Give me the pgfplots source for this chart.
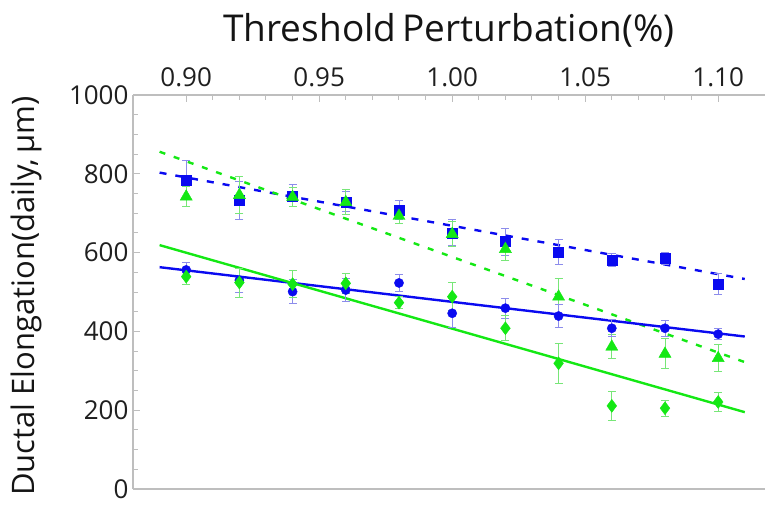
\documentclass[border=0pt]{standalone}
\usepackage{pgfplots}
\pgfplotsset{compat=1.18}
\usepackage{fontspec}
\setmainfont{Open Sans}
\definecolor{myblue}{RGB}{10,10,240}
\definecolor{mygreen}{RGB}{20,232,20}
\definecolor{errblue}{RGB}{140,140,235}
\definecolor{errgreen}{RGB}{120,230,120}
\definecolor{axgray}{RGB}{190,190,190}
\begin{document}
\begin{tikzpicture}
\useasboundingbox (0,0) rectangle (765pt,504pt);
\begin{axis}[
  at={(133pt,15pt)}, anchor=south west,
  scale only axis, width=632pt, height=394pt,
  xmin=0.88, xmax=1.1176, ymin=0, ymax=1000,
  axis x line*=top, axis y line*=left,
  axis line style={axgray, line width=1.6pt},
  tick align=inside,
  tick style={axgray, line width=1pt},
  major tick length=7pt, minor tick length=4.5pt,
  xtick={0.90,0.95,1.00,1.05,1.10},
  minor x tick num=4,
  ytick={0,200,400,600,800,1000},
  minor y tick num=3,
  xticklabel style={/pgf/number format/fixed, /pgf/number format/fixed zerofill, /pgf/number format/precision=2, yshift=5pt},
  yticklabel style={/pgf/number format/1000 sep={}, xshift=-1pt},
  /pgf/number format/assume math mode=true,
  ticklabel style={font=\fontsize{26}{30}\selectfont, text=black!88},
  xlabel={Threshold\,Perturbation(\%)},
  xlabel style={at={(axis description cs:0.5,1.165)}, anchor=center, font=\fontsize{37}{42}\selectfont, text=black!92},
  ylabel={Ductal Elongation(daily,\,μm)},
  ylabel style={at={(axis description cs:-0.168,0.49)}, anchor=center, font=\fontsize{31}{36}\selectfont, text=black!92},
  clip=false,
]
\draw[axgray, line width=1.6pt] (rel axis cs:0,0) -- (rel axis cs:1,0);
% fit lines
\addplot[myblue, line width=2.4pt, dash pattern=on 7pt off 9pt] coordinates {(0.89,803) (1.11,533)};
\addplot[mygreen, line width=2.4pt, dash pattern=on 6pt off 9pt] coordinates {(0.89,856) (1.11,322)};
\addplot[myblue, line width=2.4pt] coordinates {(0.89,563) (1.11,387)};
\addplot[mygreen, line width=2.4pt] coordinates {(0.89,619) (1.11,195)};
% blue squares
\addplot[only marks, mark=square*, mark size=5pt, mark options={myblue, fill=myblue},
  error bars/.cd, y dir=both, y explicit,
  error bar style={errblue, line width=0.9pt},
  error mark options={rotate=90, mark size=4pt, errblue, line width=0.9pt}]
  table[x=x, y=y, y error=e] {
x y e
0.90 784 50
0.92 733 48
0.94 744 28
0.96 729 25
0.98 708 24
1.00 650 33
1.02 628 34
1.04 602 32
1.06 581 16
1.08 586 15
1.10 520 27
};
% green triangles
\addplot[only marks, mark=triangle*, mark size=7pt, mark options={mygreen, fill=mygreen},
  error bars/.cd, y dir=both, y explicit,
  error bar style={errgreen, line width=0.9pt},
  error mark options={rotate=90, mark size=4pt, errgreen, line width=0.9pt}]
  table[x=x, y=y, y error=e] {
x y e
0.90 742 25
0.92 746 47
0.94 741 25
0.96 728 32
0.98 693 20
1.00 647 32
1.02 609 30
1.04 488 47
1.06 361 30
1.08 343 38
1.10 332 34
};
% blue circles
\addplot[only marks, mark=*, mark size=4.6pt, mark options={myblue, fill=myblue},
  error bars/.cd, y dir=both, y explicit,
  error bar style={errblue, line width=0.9pt},
  error mark options={rotate=90, mark size=4pt, errblue, line width=0.9pt}]
  table[x=x, y=y, y error=e] {
x y e
0.90 556 20
0.92 530 30
0.94 501 30
0.96 505 30
0.98 523 21
1.00 446 37
1.02 459 25
1.04 439 30
1.06 408 22
1.08 408 20
1.10 393 14
};
% green diamonds
\addplot[only marks, mark=diamond*, mark size=6.5pt, mark options={mygreen, fill=mygreen},
  error bars/.cd, y dir=both, y explicit,
  error bar style={errgreen, line width=0.9pt},
  error mark options={rotate=90, mark size=4pt, errgreen, line width=0.9pt}]
  table[x=x, y=y, y error=e] {
x y e
0.90 539 20
0.92 524 37
0.94 520 35
0.96 522 25
0.98 473 15
1.00 488 35
1.02 408 32
1.04 319 50
1.06 211 37
1.08 205 20
1.10 221 24
};
\end{axis}
\end{tikzpicture}
\end{document}
